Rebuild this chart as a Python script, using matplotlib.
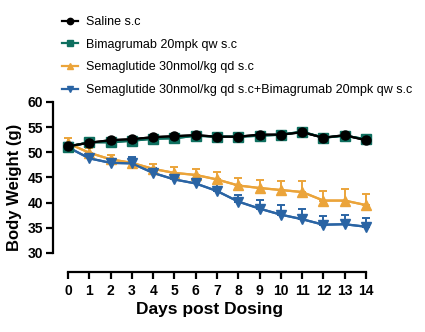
import numpy as np
import matplotlib.pyplot as plt

days = np.arange(0, 15)

saline = [51.2, 51.9, 52.4, 52.6, 53.0, 53.2, 53.4, 53.1, 53.1, 53.5, 53.5, 54.0, 52.9, 53.4, 52.4]
saline_err = [0.4, 0.4, 0.4, 0.4, 0.4, 0.4, 0.4, 0.4, 0.4, 0.4, 0.4, 0.6, 0.5, 0.6, 0.5]

bima = [51.1, 52.0, 52.0, 52.3, 52.7, 52.8, 53.3, 53.1, 53.1, 53.3, 53.5, 54.1, 52.9, 53.3, 52.6]
bima_err = [0.4, 0.4, 0.4, 0.4, 0.4, 0.4, 0.4, 0.4, 0.4, 0.4, 0.5, 0.6, 0.5, 0.5, 0.5]

sema = [51.8, 49.9, 48.6, 47.9, 46.7, 45.9, 45.5, 44.6, 43.4, 42.9, 42.5, 42.1, 40.4, 40.4, 39.5]
sema_err = [1.1, 0.9, 0.8, 0.9, 1.0, 1.1, 1.2, 1.5, 1.4, 1.6, 1.8, 2.1, 1.9, 2.3, 2.3]

combo = [51.0, 48.8, 47.9, 47.8, 45.9, 44.6, 43.8, 42.3, 40.2, 38.8, 37.6, 36.7, 35.6, 35.7, 35.2]
combo_err = [0.4, 0.5, 0.5, 1.3, 1.0, 0.6, 0.6, 1.3, 1.4, 1.8, 1.9, 2.0, 1.7, 1.9, 1.8]

labels = ["Saline s.c", "Bimagrumab 20mpk qw s.c", "Semaglutide 30nmol/kg qd s.c",
          "Semaglutide 30nmol/kg qd s.c+Bimagrumab 20mpk qw s.c"]
colors = ["black", "#0e6f5f", "#eba43a", "#2a64a4"]
markers = ["o", "s", "^", "v"]

plt.rcParams['font.family'] = ['Liberation Sans', 'DejaVu Sans']

fig = plt.figure(figsize=(4.25, 3.32), dpi=100)
ax = fig.add_axes([53 / 425, 60 / 332, 313 / 425, 170 / 332])

series = [(sema, sema_err), (combo, combo_err), (bima, bima_err), (saline, saline_err)]
order = [2, 3, 1, 0]
handles = {}
for idx, (vals, errs) in zip(order, series):
    vals = np.array(vals)
    errs = np.array(errs)
    ax.errorbar(days, vals, yerr=[np.zeros_like(errs), errs], color=colors[idx],
                lw=1.6, capsize=3, capthick=1.4, elinewidth=1.4, clip_on=False, zorder=2)
    h, = ax.plot(days, vals, color=colors[idx], marker=markers[idx], ms=6.5,
                 lw=1.6, clip_on=False, zorder=3)
    handles[idx] = h

ax.set_xlim(-0.705, 14)
ax.set_ylim(26.2, 60)
ax.set_xticks(days)
ax.set_yticks(np.arange(30, 61, 5))
ax.spines['left'].set_bounds(30, 60)
ax.spines['bottom'].set_bounds(0, 14)
for s in ['top', 'right']:
    ax.spines[s].set_visible(False)
for s in ['left', 'bottom']:
    ax.spines[s].set_linewidth(1.6)
ax.tick_params(width=1.6, length=5, direction='out')
ax.tick_params(axis='y', pad=2)
for lab in ax.get_xticklabels() + ax.get_yticklabels():
    lab.set_family(['Liberation Sans Narrow', 'Liberation Sans'])
    lab.set_fontweight('bold')
    lab.set_fontsize(10)

ax.set_xlabel("Days post Dosing", fontsize=12.5, fontweight='bold', labelpad=3)
ax.set_ylabel("Body Weight (g)", fontsize=12, fontweight='bold', labelpad=4)

fig.legend([handles[i] for i in range(4)], labels, loc='upper left',
           bbox_to_anchor=(57 / 425, 1 - 11 / 332), frameon=False, fontsize=9,
           handlelength=1.3, handletextpad=0.6, labelspacing=0.85, borderaxespad=0,
           markerscale=0.7)

fig.savefig("out.png", dpi=100)
